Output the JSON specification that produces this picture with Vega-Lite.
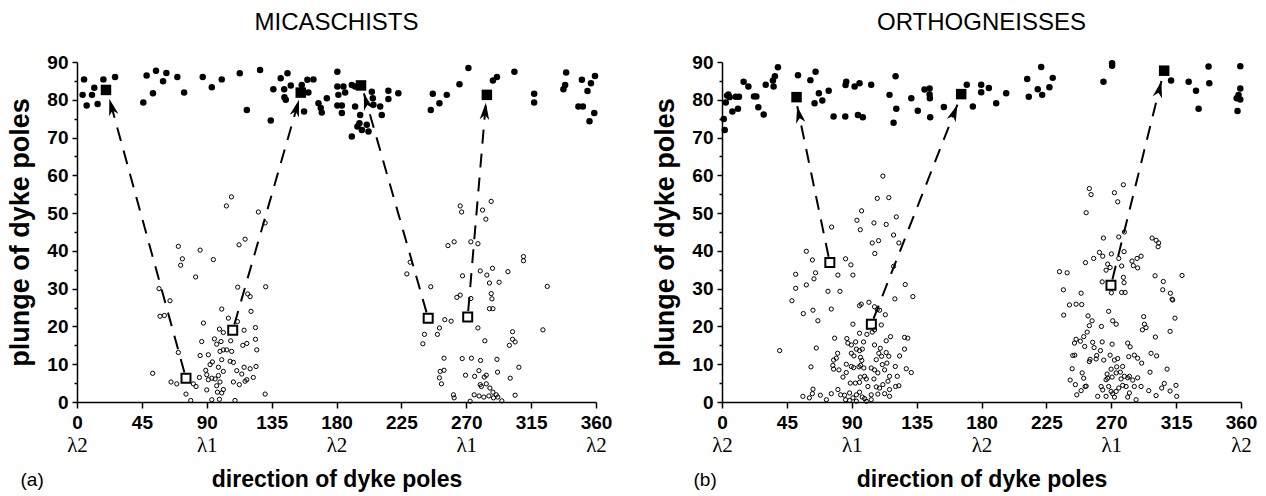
{
  "$schema": "https://vega.github.io/schema/vega-lite/v6.json",
  "background": "white",
  "padding": {"left": 6, "top": 11, "right": 5, "bottom": 5},
  "config": {"view": {"stroke": null}, "font": "Liberation Sans"},
  "spacing": 39,
  "datasets": {
    "dotsA": [
      {"d":4.9,"p":85.4},{"d":3.9,"p":81.3},{"d":6.7,"p":78.5},{"d":10.4,"p":81.3},{"d":12.0,"p":83.2},{"d":14.3,"p":78.9},{"d":18.3,"p":85.4},{"d":26.4,"p":86.0},{"d":46.0,"p":79.3},{"d":48.3,"p":86.4},{"d":52.7,"p":81.7},{"d":54.8,"p":87.7},{"d":59.7,"p":84.9},{"d":62.0,"p":87.1},{"d":69.6,"p":86.0},{"d":74.3,"p":81.9},{"d":87.2,"p":86.0},{"d":93.5,"p":83.3},{"d":100.4,"p":85.4},{"d":112.9,"p":87.0},{"d":117.8,"p":77.3},{"d":127.0,"p":87.9},{"d":134.4,"p":74.5},{"d":136.2,"p":82.8},{"d":141.3,"p":85.7},{"d":143.7,"p":82.8},{"d":143.9,"p":80.7},{"d":144.8,"p":80.0},{"d":146.0,"p":87.0},{"d":148.3,"p":83.8},
      {"d":155.9,"p":83.9},{"d":157.1,"p":81.7},{"d":157.5,"p":76.9},{"d":159.8,"p":85.3},{"d":164.0,"p":85.4},{"d":160.5,"p":81.9},{"d":167.5,"p":79.1},{"d":169.1,"p":77.8},{"d":169.8,"p":76.6},{"d":173.3,"p":80.4},{"d":180.6,"p":87.4},{"d":180.6,"p":83.5},{"d":181.3,"p":81.3},{"d":180.6,"p":78.5},{"d":183.7,"p":78.5},{"d":183.7,"p":76.5},{"d":184.8,"p":83.5},{"d":186.0,"p":81.9},{"d":190.6,"p":83.9},{"d":192.9,"p":83.5},{"d":192.9,"p":78.2},{"d":196.4,"p":76.0},{"d":195.9,"p":73.8},{"d":194.5,"p":72.9},{"d":197.6,"p":72.0},{"d":201.0,"p":73.4},{"d":202.2,"p":71.6},{"d":190.6,"p":70.3},{"d":204.5,"p":82.1},{"d":205.2,"p":80.4},{"d":205.6,"p":78.7},{"d":210.3,"p":78.2},{"d":211.4,"p":76.0},{"d":216.0,"p":82.4},{"d":216.0,"p":80.2},{"d":222.9,"p":81.7},{"d":246.8,"p":81.6},{"d":251.4,"p":79.1},{"d":245.4,"p":77.3},{"d":256.5,"p":81.3},{"d":265.3,"p":84.1},{"d":271.5,"p":88.4},{"d":288.5,"p":85.1},{"d":291.3,"p":86.0},{"d":303.4,"p":87.4},{"d":317.1,"p":81.6},{"d":317.1,"p":79.3},{"d":339.3,"p":87.2},{"d":338.6,"p":83.9},{"d":337.4,"p":82.8},{"d":347.8,"p":78.2},{"d":350.2,"p":85.3},{"d":356.5,"p":84.4},{"d":359.3,"p":86.3},{"d":354.1,"p":82.3},{"d":350.9,"p":78.2},{"d":358.8,"p":76.5},{"d":355.5,"p":74.3}
    ],
    "circA": [
      {"d":107.1,"p":54.3},{"d":103.6,"p":51.9},{"d":125.8,"p":50.3},{"d":130.5,"p":47.4},{"d":112.4,"p":41.6},{"d":116.6,"p":43.1},{"d":70.3,"p":41.2},{"d":85.4,"p":40.2},{"d":73.1,"p":37.9},{"d":71.9,"p":36.2},{"d":94.6,"p":37.7},{"d":82.3,"p":33.1},{"d":56.9,"p":30.0},{"d":64.5,"p":26.8},{"d":111.5,"p":30.4},{"d":118.4,"p":28.6},{"d":120.1,"p":27.9},{"d":130.9,"p":30.5},{"d":100.4,"p":24.6},{"d":57.6,"p":22.7},{"d":60.6,"p":22.9},{"d":87.7,"p":20.9},{"d":120.7,"p":24.0},{"d":105.0,"p":22.2},{"d":111.3,"p":21.3},{"d":123.8,"p":19.7},{"d":98.8,"p":19.3},{"d":101.5,"p":18.4},{"d":115.9,"p":19.0},{"d":86.5,"p":16.0},{"d":95.3,"p":16.7},{"d":96.9,"p":15.3},{"d":99.9,"p":16.0},{"d":106.6,"p":16.2},{"d":123.8,"p":16.6},{"d":117.8,"p":15.5},{"d":115.0,"p":15.0},{"d":124.7,"p":13.8},{"d":70.3,"p":13.1},{"d":85.4,"p":12.3},{"d":91.1,"p":12.5},{"d":101.5,"p":13.8},{"d":103.9,"p":13.8},{"d":107.3,"p":13.4},{"d":99.2,"p":13.4},{"d":100.4,"p":11.2},{"d":106.2,"p":10.8},{"d":108.5,"p":10.5},{"d":93.9,"p":10.6},{"d":92.3,"p":9.9},{"d":98.1,"p":9.2},{"d":89.3,"p":8.4},{"d":90.0,"p":7.2},{"d":93.5,"p":6.3},{"d":84.9,"p":6.5},{"d":115.9,"p":9.2},{"d":120.1,"p":8.8},{"d":124.2,"p":9.4},{"d":110.8,"p":8.3},{"d":114.3,"p":7.4},{"d":122.3,"p":6.5},{"d":117.8,"p":5.9},{"d":101.5,"p":8.1},{"d":98.1,"p":7.0},{"d":52.5,"p":7.6},{"d":65.2,"p":5.3},{"d":69.2,"p":4.8},{"d":80.7,"p":4.8},{"d":82.6,"p":4.1},{"d":91.1,"p":5.9},{"d":95.8,"p":6.1},{"d":99.2,"p":5.3},{"d":96.9,"p":4.3},{"d":108.5,"p":5.3},{"d":112.6,"p":4.6},{"d":90.0,"p":3.2},{"d":97.4,"p":2.6},{"d":101.5,"p":3.3},{"d":100.4,"p":2.4},{"d":75.6,"p":2.1},{"d":130.5,"p":2.1},{"d":78.9,"p":0.4},{"d":93.5,"p":0.6},{"d":98.8,"p":0.7},{"d":109.6,"p":0.4},{"d":116.6,"p":5.5},
      {"d":265.8,"p":51.9},{"d":266.8,"p":50.3},{"d":287.3,"p":53.1},{"d":281.3,"p":50.8},{"d":283.6,"p":48.4},{"d":257.3,"p":41.4},{"d":261.6,"p":42.4},{"d":273.2,"p":42.4},{"d":278.1,"p":41.9},{"d":309.7,"p":38.5},{"d":309.7,"p":37.4},{"d":231.1,"p":37.0},{"d":228.8,"p":33.9},{"d":267.4,"p":33.4},{"d":279.7,"p":34.7},{"d":284.3,"p":33.6},{"d":288.2,"p":35.4},{"d":298.9,"p":34.5},{"d":286.1,"p":31.5},{"d":292.8,"p":31.7},{"d":245.4,"p":30.5},{"d":326.2,"p":30.6},{"d":263.5,"p":27.7},{"d":265.8,"p":28.3},{"d":273.2,"p":27.4},{"d":287.3,"p":28.7},{"d":287.8,"p":27.3},{"d":286.1,"p":24.7},{"d":288.5,"p":24.7},{"d":255.1,"p":21.8},{"d":259.5,"p":21.4},{"d":251.4,"p":19.6},{"d":250.0,"p":17.9},{"d":241.0,"p":17.9},{"d":239.9,"p":15.4},{"d":278.1,"p":19.6},{"d":282.9,"p":16.2},{"d":302.1,"p":18.6},{"d":302.1,"p":16.6},{"d":303.9,"p":15.9},{"d":299.9,"p":15.0},{"d":323.2,"p":19.1},{"d":254.6,"p":11.6},{"d":267.2,"p":11.5},{"d":273.6,"p":11.6},{"d":279.9,"p":11.0},{"d":291.3,"p":11.3},{"d":306.5,"p":9.2},{"d":251.9,"p":8.1},{"d":254.6,"p":8.4},{"d":251.4,"p":6.4},{"d":252.8,"p":4.8},{"d":269.5,"p":7.1},{"d":275.8,"p":6.8},{"d":278.8,"p":8.3},{"d":282.5,"p":6.6},{"d":283.9,"p":7.1},{"d":291.7,"p":7.9},{"d":300.5,"p":6.3},{"d":279.7,"p":4.6},{"d":280.5,"p":4.1},{"d":283.9,"p":4.8},{"d":286.4,"p":3.7},{"d":288.5,"p":2.6},{"d":290.8,"p":1.9},{"d":261.1,"p":1.9},{"d":261.6,"p":1.1},{"d":275.5,"p":1.9},{"d":278.9,"p":1.6},{"d":282.2,"p":1.3},{"d":285.7,"p":1.6},{"d":288.9,"p":1.1},{"d":291.9,"p":1.3},{"d":294.7,"p":0.3},{"d":303.9,"p":1.8},{"d":272.7,"p":0.2}
    ],
    "arrowsA": [
      {"sx":75.6,"sy":6.3,"tx":22.4,"ty":80.3,"ex":20.1,"ey":82.6},
      {"sx":108.0,"sy":19.0,"tx":154.0,"ty":80.0,"ex":155.2,"ey":81.9},
      {"sx":243.6,"sy":22.2,"tx":199.0,"ty":81.7,"ex":197.0,"ey":83.8},
      {"sx":271.0,"sy":22.5,"tx":283.6,"ty":79.2,"ex":284.3,"ey":81.3}
    ],
    "dotsB": [
      {"d":1.2,"p":74.9},{"d":1.9,"p":72.0},{"d":2.6,"p":79.3},{"d":3.5,"p":81.1},{"d":4.4,"p":81.4},{"d":5.3,"p":80.7},{"d":7.2,"p":76.9},{"d":9.5,"p":80.8},{"d":11.1,"p":77.6},{"d":11.8,"p":80.8},{"d":15.0,"p":84.8},{"d":18.3,"p":83.5},{"d":22.2,"p":80.9},{"d":23.8,"p":80.9},{"d":25.2,"p":78.0},{"d":28.9,"p":76.1},{"d":30.3,"p":84.0},{"d":35.3,"p":85.1},{"d":35.8,"p":83.5},{"d":36.7,"p":86.2},{"d":38.8,"p":88.6},{"d":52.7,"p":86.5},{"d":61.3,"p":85.2},{"d":64.9,"p":87.4},{"d":64.2,"p":79.1},{"d":67.2,"p":81.7},{"d":69.6,"p":79.8},{"d":74.0,"p":82.4},{"d":77.4,"p":75.6},{"d":85.5,"p":75.6},{"d":85.7,"p":83.9},{"d":86.2,"p":84.8},{"d":92.0,"p":83.5},{"d":95.4,"p":84.4},{"d":94.3,"p":76.0},{"d":97.7,"p":75.4},{"d":103.5,"p":84.0},{"d":116.2,"p":81.3},{"d":119.0,"p":73.9},{"d":120.4,"p":86.2},{"d":120.9,"p":77.6},{"d":131.3,"p":80.4},{"d":135.8,"p":77.1},{"d":140.5,"p":82.7},{"d":144.0,"p":83.0},{"d":144.0,"p":81.4},{"d":144.2,"p":80.4},{"d":144.4,"p":75.4},{"d":153.9,"p":78.1},{"d":169.8,"p":84.0},
      {"d":174.0,"p":78.2},{"d":179.8,"p":84.0},{"d":179.8,"p":82.0},{"d":185.1,"p":83.1},{"d":190.2,"p":79.1},{"d":197.1,"p":81.7},{"d":211.7,"p":85.5},{"d":212.8,"p":80.8},{"d":219.0,"p":82.8},{"d":221.4,"p":88.7},{"d":222.1,"p":81.3},{"d":227.1,"p":83.3},{"d":229.4,"p":85.8},{"d":264.6,"p":84.8},{"d":270.6,"p":89.7},{"d":270.6,"p":89.0},{"d":311.5,"p":85.1},{"d":323.7,"p":84.8},{"d":328.8,"p":82.4},{"d":330.6,"p":77.6},{"d":337.5,"p":88.8},{"d":338.0,"p":84.4},{"d":359.5,"p":88.9},{"d":359.5,"p":83.0},{"d":357.0,"p":80.4},{"d":359.5,"p":80.1},{"d":357.6,"p":77.0},{"d":358.3,"p":81.3}
    ],
    "circB": [
      {"d":111.6,"p":59.8},{"d":115.7,"p":54.1},{"d":107.7,"p":53.9},{"d":96.8,"p":50.6},{"d":93.6,"p":48.1},{"d":95.9,"p":45.6},{"d":105.4,"p":47.4},{"d":113.9,"p":47.0},{"d":120.9,"p":49.0},{"d":119.0,"p":44.2},{"d":122.7,"p":42.1},{"d":108.6,"p":42.7},{"d":104.2,"p":42.1},{"d":106.0,"p":39.3},{"d":76.0,"p":46.3},{"d":58.5,"p":39.9},{"d":62.7,"p":37.6},{"d":85.7,"p":37.9},{"d":89.4,"p":36.3},{"d":80.4,"p":33.6},{"d":90.8,"p":33.6},{"d":64.9,"p":34.2},{"d":63.8,"p":32.6},{"d":51.1,"p":33.8},{"d":58.5,"p":31.0},{"d":51.1,"p":30.1},{"d":73.5,"p":29.3},{"d":81.8,"p":29.3},{"d":48.5,"p":26.8},{"d":75.8,"p":24.6},{"d":63.1,"p":24.3},{"d":66.5,"p":21.5},{"d":56.4,"p":23.4},{"d":119.9,"p":27.3},{"d":127.1,"p":31.1},{"d":132.4,"p":27.9},{"d":95.4,"p":25.5},{"d":96.6,"p":25.9},{"d":101.9,"p":26.4},{"d":105.8,"p":25.2},{"d":109.3,"p":24.3},{"d":113.3,"p":23.1},{"d":107.7,"p":24.5},{"d":90.8,"p":20.6},{"d":110.5,"p":20.4},{"d":100.5,"p":17.9},{"d":104.2,"p":18.5},{"d":105.8,"p":19.1},{"d":95.4,"p":18.2},{"d":78.1,"p":16.9},{"d":86.6,"p":16.8},{"d":87.3,"p":15.6},{"d":92.7,"p":15.9},{"d":98.2,"p":15.9},{"d":116.9,"p":17.3},{"d":113.9,"p":16.2},{"d":126.6,"p":17.1},{"d":128.9,"p":16.9},{"d":65.4,"p":14.3},{"d":40.0,"p":13.6},{"d":89.7,"p":15.1},{"d":93.2,"p":14.0},{"d":97.3,"p":14.0},{"d":95.4,"p":13.6},{"d":89.7,"p":12.9},{"d":91.5,"p":12.2},{"d":96.1,"p":11.8},{"d":80.2,"p":12.9},{"d":79.3,"p":11.6},{"d":77.4,"p":11.1},{"d":97.0,"p":11.0},{"d":105.8,"p":15.1},{"d":109.8,"p":14.2},{"d":108.8,"p":12.9},{"d":113.9,"p":13.1},{"d":110.7,"p":12.1},{"d":107.0,"p":11.2},{"d":115.7,"p":12.1},{"d":126.6,"p":14.0},{"d":123.2,"p":12.2},{"d":111.2,"p":9.9},{"d":112.8,"p":8.5},{"d":108.1,"p":7.7},{"d":105.8,"p":8.5},{"d":103.5,"p":9.0},{"d":114.4,"p":10.3},{"d":120.2,"p":9.4},{"d":127.8,"p":8.8},{"d":131.3,"p":7.8},{"d":116.2,"p":6.8},{"d":121.6,"p":6.8},{"d":122.7,"p":4.3},{"d":76.9,"p":9.7},{"d":77.4,"p":8.7},{"d":81.1,"p":8.5},{"d":86.2,"p":10.0},{"d":89.7,"p":9.4},{"d":91.3,"p":9.1},{"d":95.0,"p":9.3},{"d":96.1,"p":9.7},{"d":98.4,"p":9.0},{"d":61.7,"p":9.3},{"d":83.9,"p":6.6},{"d":86.2,"p":7.8},{"d":89.0,"p":5.0},{"d":92.5,"p":5.0},{"d":95.4,"p":5.2},{"d":100.1,"p":6.1},{"d":98.9,"p":6.8},{"d":95.9,"p":6.6},{"d":105.4,"p":6.1},{"d":107.0,"p":4.0},{"d":109.3,"p":3.7},{"d":111.6,"p":4.6},{"d":115.1,"p":5.5},{"d":116.2,"p":3.3},{"d":120.4,"p":4.1},{"d":116.2,"p":1.5},{"d":112.8,"p":2.2},{"d":108.1,"p":2.1},{"d":103.5,"p":1.9},{"d":101.2,"p":4.1},{"d":98.9,"p":0.9},{"d":97.3,"p":1.3},{"d":95.4,"p":2.6},{"d":93.2,"p":1.9},{"d":90.8,"p":1.1},{"d":88.5,"p":2.4},{"d":85.0,"p":1.8},{"d":82.3,"p":1.9},{"d":80.4,"p":3.3},{"d":75.8,"p":2.2},{"d":72.4,"p":0.6},{"d":68.2,"p":1.8},{"d":63.1,"p":3.4},{"d":62.7,"p":2.2},{"d":60.6,"p":1.1},{"d":56.1,"p":1.5},{"d":85.7,"p":0.6},{"d":88.5,"p":0.4},{"d":93.2,"p":0.2},{"d":100.1,"p":0.2},{"d":103.5,"p":0.6},{"d":119.0,"p":35.9},
      {"d":254.8,"p":56.5},{"d":256.0,"p":54.9},{"d":272.2,"p":55.4},{"d":278.4,"p":57.5},{"d":274.5,"p":53.0},{"d":252.6,"p":50.1},{"d":264.6,"p":43.4},{"d":275.2,"p":43.7},{"d":279.1,"p":45.0},{"d":298.3,"p":43.4},{"d":301.1,"p":42.8},{"d":302.9,"p":42.1},{"d":302.5,"p":41.1},{"d":261.8,"p":39.6},{"d":264.1,"p":38.6},{"d":270.1,"p":39.2},{"d":278.9,"p":39.8},{"d":275.2,"p":38.0},{"d":257.8,"p":38.0},{"d":252.1,"p":36.9},{"d":267.5,"p":36.5},{"d":266.4,"p":34.9},{"d":269.2,"p":35.6},{"d":277.2,"p":36.0},{"d":284.4,"p":37.3},{"d":285.3,"p":36.1},{"d":288.3,"p":35.5},{"d":287.9,"p":38.0},{"d":290.7,"p":38.6},{"d":234.1,"p":34.5},{"d":239.4,"p":34.2},{"d":263.7,"p":31.8},{"d":278.4,"p":33.0},{"d":278.9,"p":31.6},{"d":277.2,"p":29.0},{"d":279.6,"p":29.0},{"d":270.1,"p":28.9},{"d":300.4,"p":33.4},{"d":306.1,"p":31.9},{"d":305.7,"p":29.7},{"d":319.1,"p":33.5},{"d":236.8,"p":29.7},{"d":249.1,"p":28.8},{"d":311.0,"p":28.8},{"d":312.2,"p":27.2},{"d":312.6,"p":27.0},{"d":241.0,"p":25.7},{"d":245.6,"p":25.9},{"d":249.5,"p":25.8},{"d":237.0,"p":23.0},{"d":268.2,"p":24.0},{"d":253.9,"p":22.8},{"d":256.7,"p":21.5},{"d":254.8,"p":20.2},{"d":253.3,"p":18.5},{"d":250.9,"p":17.3},{"d":245.6,"p":16.6},{"d":244.5,"p":15.6},{"d":248.6,"p":16.1},{"d":271.0,"p":21.5},{"d":273.4,"p":20.6},{"d":263.2,"p":20.0},{"d":292.5,"p":22.6},{"d":293.0,"p":20.6},{"d":291.6,"p":19.1},{"d":294.1,"p":19.7},{"d":314.2,"p":22.2},{"d":310.8,"p":18.7},{"d":300.6,"p":17.2},{"d":251.6,"p":14.7},{"d":257.1,"p":15.8},{"d":258.1,"p":14.4},{"d":263.7,"p":15.9},{"d":270.6,"p":15.3},{"d":281.4,"p":15.6},{"d":283.1,"p":14.6},{"d":243.3,"p":12.3},{"d":244.7,"p":12.4},{"d":254.8,"p":10.7},{"d":255.3,"p":11.3},{"d":259.5,"p":11.4},{"d":259.9,"p":12.3},{"d":262.5,"p":13.6},{"d":264.8,"p":11.1},{"d":269.2,"p":12.4},{"d":272.2,"p":11.1},{"d":274.5,"p":11.5},{"d":277.9,"p":9.4},{"d":273.8,"p":9.3},{"d":269.9,"p":8.7},{"d":267.1,"p":7.4},{"d":267.5,"p":6.3},{"d":266.4,"p":5.9},{"d":270.6,"p":6.6},{"d":273.4,"p":7.7},{"d":276.3,"p":7.9},{"d":276.8,"p":6.1},{"d":279.1,"p":6.8},{"d":281.4,"p":6.4},{"d":282.6,"p":6.8},{"d":284.9,"p":5.8},{"d":286.0,"p":4.1},{"d":288.3,"p":6.4},{"d":282.1,"p":12.0},{"d":286.0,"p":12.4},{"d":288.3,"p":11.6},{"d":291.1,"p":10.3},{"d":297.6,"p":12.9},{"d":301.5,"p":12.2},{"d":308.7,"p":8.7},{"d":296.9,"p":7.9},{"d":242.9,"p":8.8},{"d":241.5,"p":5.8},{"d":245.1,"p":4.6},{"d":249.8,"p":7.7},{"d":250.9,"p":6.3},{"d":251.9,"p":4.1},{"d":249.1,"p":3.0},{"d":246.1,"p":1.9},{"d":252.6,"p":4.2},{"d":260.6,"p":1.5},{"d":263.0,"p":4.1},{"d":264.1,"p":3.2},{"d":268.2,"p":4.1},{"d":269.9,"p":2.8},{"d":271.0,"p":2.2},{"d":273.4,"p":2.8},{"d":272.2,"p":1.3},{"d":275.2,"p":3.7},{"d":277.9,"p":4.4},{"d":280.3,"p":4.1},{"d":282.6,"p":2.4},{"d":287.2,"p":0.6},{"d":281.4,"p":1.3},{"d":296.0,"p":3.0},{"d":301.1,"p":1.7},{"d":305.0,"p":3.7},{"d":306.8,"p":4.9},{"d":310.8,"p":2.9},{"d":314.9,"p":4.4},{"d":315.4,"p":1.5},{"d":290.7,"p":4.1},{"d":266.4,"p":1.5}
    ],
    "arrowsB": [
      {"sx":74.8,"sy":36.9,"tx":52.2,"ty":78.3,"ex":51.7,"ey":80.7},
      {"sx":103.6,"sy":20.6,"tx":163.3,"ty":78.7,"ex":165.9,"ey":81.5},
      {"sx":269.8,"sy":30.9,"tx":304.8,"ty":85.0,"ex":306.7,"ey":87.7}
    ]
  },
  "hconcat": [
    {
      "width": 519, "height": 340,
      "title": {"text": "MICASCHISTS", "font": "Liberation Sans", "fontSize": 24, "fontWeight": "normal", "color": "black", "baseline": "alphabetic", "offset": -1, "anchor": "middle", "frame": "group"},
      "resolve": {"axis": {"x": "independent", "y": "independent"}},
      "layer": [
        {
          "data": {"name": "circA"},
          "mark": {"type": "point", "shape": "circle", "filled": false, "stroke": "black", "strokeWidth": 1, "size": 18, "opacity": 1},
          "encoding": {
            "x": {"field": "d", "type": "quantitative", "scale": {"domain": [0, 360], "nice": false, "zero": false},
              "axis": {"orient": "bottom", "values": [0, 90, 180, 270, 360], "labelExpr": "datum.value % 180 === 0 ? 'λ2' : 'λ1'", "labelFont": "Liberation Serif", "labelFontSize": 21, "labelFontWeight": "normal", "labelColor": "black", "labelFlush": false, "labelOverlap": false, "labelPadding": 32, "ticks": false, "tickSize": 0, "domain": false, "grid": false,
                "title": "(a)", "titleFont": "Liberation Sans", "titleFontSize": 19, "titleFontWeight": "normal", "titleColor": "black", "titleX": -57, "titleY": 77, "titleAlign": "left", "titleAnchor": "start", "titleBaseline": "middle"}},
            "y": {"field": "p", "type": "quantitative", "scale": {"domain": [0, 90], "nice": false, "zero": false},
              "axis": {"orient": "left", "values": [5, 15, 25, 35, 45, 55, 65, 75, 85], "labels": false, "domain": false, "tickSize": 3, "tickWidth": 1.5, "tickColor": "black", "grid": false, "title": null}}
          }
        },
        {
          "data": {"name": "dotsA"},
          "mark": {"type": "circle", "color": "black", "size": 42, "opacity": 1},
          "encoding": {
            "x": {"field": "d", "type": "quantitative",
              "axis": {"orient": "bottom", "values": [0, 45, 90, 135, 180, 225, 270, 315, 360], "labelFont": "Liberation Sans", "labelFontSize": 19, "labelFontWeight": "bold", "labelColor": "black", "labelFlush": false, "labelOverlap": false, "labelPadding": 5, "tickSize": 6, "tickWidth": 1.5, "tickColor": "black", "domainColor": "black", "domainWidth": 1.5, "grid": false,
                "title": "direction of dyke poles", "titleFont": "Liberation Sans", "titleFontSize": 23, "titleFontWeight": "bold", "titleColor": "black", "titleY": 77, "titleBaseline": "middle"}},
            "y": {"field": "p", "type": "quantitative",
              "axis": {"orient": "left", "values": [0, 10, 20, 30, 40, 50, 60, 70, 80, 90], "labelFont": "Liberation Sans", "labelFontSize": 19, "labelFontWeight": "bold", "labelColor": "black", "labelPadding": 4, "tickSize": 5, "tickWidth": 1.5, "tickColor": "black", "domainColor": "black", "domainWidth": 1.5, "grid": false,
                "title": "plunge of dyke poles", "titleFont": "Liberation Sans", "titleFontSize": 27, "titleFontWeight": "bold", "titleColor": "black", "titlePadding": 12}}
          }
        },
        {
          "data": {"name": "arrowsA"},
          "mark": {"type": "rule", "color": "black", "strokeWidth": 2, "strokeDash": [14, 10], "strokeDashOffset": 18},
          "encoding": {
            "x": {"field": "sx", "type": "quantitative", "axis": null},
            "y": {"field": "sy", "type": "quantitative", "axis": null},
            "x2": {"field": "tx"}, "y2": {"field": "ty"}
          }
        },
        {
          "data": {"name": "arrowsA"},
          "mark": {"type": "point", "shape": "square", "filled": false, "stroke": "black", "strokeWidth": 2, "size": 81, "opacity": 1},
          "encoding": {
            "x": {"field": "sx", "type": "quantitative", "axis": null},
            "y": {"field": "sy", "type": "quantitative", "axis": null}
          }
        },
        {
          "data": {"name": "arrowsA"},
          "mark": {"type": "square", "color": "black", "size": 110, "opacity": 1},
          "encoding": {
            "x": {"field": "ex", "type": "quantitative", "axis": null},
            "y": {"field": "ey", "type": "quantitative", "axis": null}
          }
        },
        {
          "data": {"name": "arrowsA"},
          "transform": [{"calculate": "atan2((datum.tx - datum.sx) * 519 / 360, (datum.ty - datum.sy) * 340 / 90) * 180 / PI", "as": "ang"}],
          "mark": {"type": "point", "shape": "M0,0L0.45,1.6L0,1.15L-0.45,1.6Z", "filled": true, "color": "black", "size": 450, "opacity": 1},
          "encoding": {
            "x": {"field": "tx", "type": "quantitative", "axis": null},
            "y": {"field": "ty", "type": "quantitative", "axis": null},
            "angle": {"field": "ang", "type": "quantitative", "scale": null}
          }
        }
      ]
    },
    {
      "width": 519, "height": 340,
      "title": {"text": "ORTHOGNEISSES", "font": "Liberation Sans", "fontSize": 24, "fontWeight": "normal", "color": "black", "baseline": "alphabetic", "offset": -1, "anchor": "middle", "frame": "group"},
      "resolve": {"axis": {"x": "independent", "y": "independent"}},
      "layer": [
        {
          "data": {"name": "circB"},
          "mark": {"type": "point", "shape": "circle", "filled": false, "stroke": "black", "strokeWidth": 1, "size": 18, "opacity": 1},
          "encoding": {
            "x": {"field": "d", "type": "quantitative", "scale": {"domain": [0, 360], "nice": false, "zero": false},
              "axis": {"orient": "bottom", "values": [0, 90, 180, 270, 360], "labelExpr": "datum.value % 180 === 0 ? 'λ2' : 'λ1'", "labelFont": "Liberation Serif", "labelFontSize": 21, "labelFontWeight": "normal", "labelColor": "black", "labelFlush": false, "labelOverlap": false, "labelPadding": 32, "ticks": false, "tickSize": 0, "domain": false, "grid": false,
                "title": "(b)", "titleFont": "Liberation Sans", "titleFontSize": 19, "titleFontWeight": "normal", "titleColor": "black", "titleX": -29, "titleY": 77, "titleAlign": "left", "titleAnchor": "start", "titleBaseline": "middle"}},
            "y": {"field": "p", "type": "quantitative", "scale": {"domain": [0, 90], "nice": false, "zero": false},
              "axis": {"orient": "left", "values": [5, 15, 25, 35, 45, 55, 65, 75, 85], "labels": false, "domain": false, "tickSize": 3, "tickWidth": 1.5, "tickColor": "black", "grid": false, "title": null}}
          }
        },
        {
          "data": {"name": "dotsB"},
          "mark": {"type": "circle", "color": "black", "size": 42, "opacity": 1},
          "encoding": {
            "x": {"field": "d", "type": "quantitative",
              "axis": {"orient": "bottom", "values": [0, 45, 90, 135, 180, 225, 270, 315, 360], "labelFont": "Liberation Sans", "labelFontSize": 19, "labelFontWeight": "bold", "labelColor": "black", "labelFlush": false, "labelOverlap": false, "labelPadding": 5, "tickSize": 6, "tickWidth": 1.5, "tickColor": "black", "domainColor": "black", "domainWidth": 1.5, "grid": false,
                "title": "direction of dyke poles", "titleFont": "Liberation Sans", "titleFontSize": 23, "titleFontWeight": "bold", "titleColor": "black", "titleY": 77, "titleBaseline": "middle"}},
            "y": {"field": "p", "type": "quantitative",
              "axis": {"orient": "left", "values": [0, 10, 20, 30, 40, 50, 60, 70, 80, 90], "labelFont": "Liberation Sans", "labelFontSize": 19, "labelFontWeight": "bold", "labelColor": "black", "labelPadding": 4, "tickSize": 5, "tickWidth": 1.5, "tickColor": "black", "domainColor": "black", "domainWidth": 1.5, "grid": false,
                "title": "plunge of dyke poles", "titleFont": "Liberation Sans", "titleFontSize": 27, "titleFontWeight": "bold", "titleColor": "black", "titlePadding": 12}}
          }
        },
        {
          "data": {"name": "arrowsB"},
          "mark": {"type": "rule", "color": "black", "strokeWidth": 2, "strokeDash": [14, 10], "strokeDashOffset": 18},
          "encoding": {
            "x": {"field": "sx", "type": "quantitative", "axis": null},
            "y": {"field": "sy", "type": "quantitative", "axis": null},
            "x2": {"field": "tx"}, "y2": {"field": "ty"}
          }
        },
        {
          "data": {"name": "arrowsB"},
          "mark": {"type": "point", "shape": "square", "filled": false, "stroke": "black", "strokeWidth": 2, "size": 81, "opacity": 1},
          "encoding": {
            "x": {"field": "sx", "type": "quantitative", "axis": null},
            "y": {"field": "sy", "type": "quantitative", "axis": null}
          }
        },
        {
          "data": {"name": "arrowsB"},
          "mark": {"type": "square", "color": "black", "size": 110, "opacity": 1},
          "encoding": {
            "x": {"field": "ex", "type": "quantitative", "axis": null},
            "y": {"field": "ey", "type": "quantitative", "axis": null}
          }
        },
        {
          "data": {"name": "arrowsB"},
          "transform": [{"calculate": "atan2((datum.tx - datum.sx) * 519 / 360, (datum.ty - datum.sy) * 340 / 90) * 180 / PI", "as": "ang"}],
          "mark": {"type": "point", "shape": "M0,0L0.45,1.6L0,1.15L-0.45,1.6Z", "filled": true, "color": "black", "size": 450, "opacity": 1},
          "encoding": {
            "x": {"field": "tx", "type": "quantitative", "axis": null},
            "y": {"field": "ty", "type": "quantitative", "axis": null},
            "angle": {"field": "ang", "type": "quantitative", "scale": null}
          }
        }
      ]
    }
  ]
}
